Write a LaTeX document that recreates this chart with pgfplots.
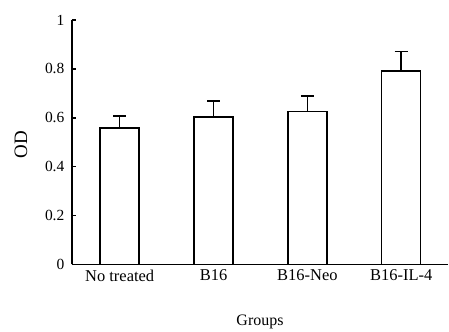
\documentclass[border=0pt]{standalone}
\usepackage{fontspec}
\setmainfont{Liberation Serif}
\usepackage{pgfplots}
\pgfplotsset{compat=1.18}
\begin{document}
\begin{tikzpicture}
\begin{axis}[
  name=ax, scale only axis, width=377pt, height=245pt,
  ymin=0, ymax=1, xmin=-0.51, xmax=3.5,
  axis lines*=left,
  axis line style={line width=1.8pt},
  ytick={0,0.2,0.4,0.6,0.8,1}, yticklabels={0,0.2,0.4,0.6,0.8,1},
  xtick={0,1,2,3}, xticklabels={No treated,B16,B16-Neo,B16-IL-4},
  x tick style={draw=none},
  y tick style={line width=1.5pt, black},
  tick align=inside, major tick length=4pt,
  /pgf/number format/assume math mode=true,
  yticklabel style={font=\fontsize{15.5}{16}\selectfont, xshift=-4pt},
  xticklabel style={font=\fontsize{16.5}{17}\selectfont, yshift=-2pt},
  xlabel={Groups}, ylabel={OD},
  every axis x label/.style={at={(axis description cs:0.5,-0.233)}, anchor=center, font=\fontsize{16}{17}\selectfont},
  every axis y label/.style={at={(axis description cs:-0.135,0.49)}, anchor=center, rotate=90, font=\fontsize{19}{20}\selectfont},
  clip=false,
]
\addplot[ybar, bar width=39pt, fill=white, draw=black, line width=1.5pt,
  error bars/.cd, y dir=plus, y explicit,
  error bar style={line width=1.5pt, black},
  error mark options={rotate=90, mark size=6.5pt, line width=1.5pt, black}]
  coordinates {
  (0,0.559) +- (0,0.049)
  (1,0.604) +- (0,0.065)
  (2,0.625) +- (0,0.065)
  (3,0.792) +- (0,0.078)
  };
\end{axis}
\path (ax.south west) ++(-72pt,-65pt) rectangle ++(449pt,330pt);
\end{tikzpicture}
\end{document}
